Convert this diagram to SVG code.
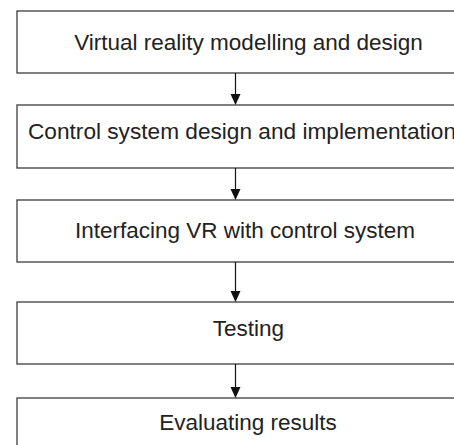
<svg xmlns="http://www.w3.org/2000/svg" width="454" height="445" viewBox="0 0 454 445">
  <style>
    .box { fill: #ffffff; stroke: #4a4a4a; stroke-width: 1.4; }
    .label { font-family: "Liberation Sans", Arial, sans-serif; font-size: 22.5px; fill: #222222; }
    .mid { text-anchor: middle; }
    .edge { stroke: #111111; stroke-width: 1.2; fill: none; }
    .head { fill: #111111; }
  </style>
  <rect width="454" height="445" fill="#ffffff"/>

  <g id="node-vr-modelling">
    <rect class="box" x="17" y="11" width="470" height="62"/>
    <text class="label mid" x="248.5" y="50">Virtual reality modelling and design</text>
  </g>

  <g id="node-control-design">
    <rect class="box" x="17" y="105" width="470" height="63"/>
    <text class="label" x="28" y="138.5" textLength="428" lengthAdjust="spacingAndGlyphs">Control system design and implementation</text>
  </g>

  <g id="node-interfacing">
    <rect class="box" x="17" y="200" width="470" height="62"/>
    <text class="label mid" x="245" y="237.5">Interfacing VR with control system</text>
  </g>

  <g id="node-testing">
    <rect class="box" x="17" y="302" width="470" height="62"/>
    <text class="label mid" x="248.5" y="336">Testing</text>
  </g>

  <g id="node-evaluating">
    <rect class="box" x="17" y="398" width="470" height="70"/>
    <text class="label mid" x="248" y="429.5">Evaluating results</text>
  </g>

  <g id="connectors">
    <line class="edge" x1="235.5" y1="73" x2="235.5" y2="95"/>
    <polygon class="head" points="230.5,94 240.5,94 235.5,105"/>
    <line class="edge" x1="235.5" y1="168" x2="235.5" y2="190"/>
    <polygon class="head" points="230.5,189 240.5,189 235.5,200"/>
    <line class="edge" x1="235.5" y1="262" x2="235.5" y2="292"/>
    <polygon class="head" points="230.5,291 240.5,291 235.5,302"/>
    <line class="edge" x1="235.5" y1="364" x2="235.5" y2="388"/>
    <polygon class="head" points="230.5,387 240.5,387 235.5,398"/>
  </g>
</svg>
